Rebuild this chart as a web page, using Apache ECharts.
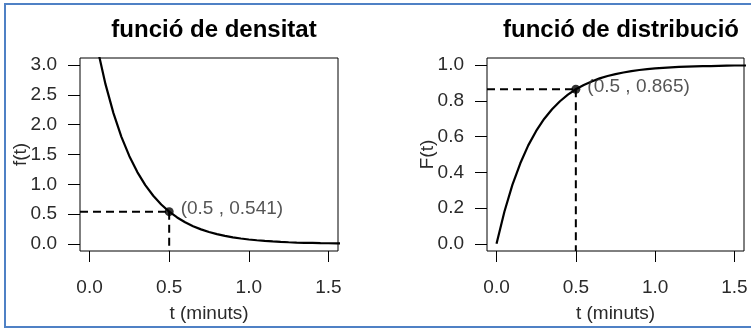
<!DOCTYPE html>
<html>
<head>
<meta charset="utf-8">
<script src="https://cdn.jsdelivr.net/npm/echarts@6/dist/echarts.min.js"></script>
<style>
html,body{margin:0;padding:0;background:#fff;}
#c{width:751px;height:329px;}
</style>
</head>
<body>
<div id="c"></div>
<script>
// ---- data ----
const tValues = [0,0.05,0.1,0.15,0.2,0.25,0.3,0.35,0.4,0.45,0.5,0.55,0.6,0.65,0.7,0.75,0.8,0.85,0.9,0.95,1.0,1.05,1.1,1.15,1.2,1.25,1.3,1.35,1.4,1.45,1.5,1.55,1.6];
const densityValues = [4.0,3.275,2.681,2.195,1.797,1.472,1.205,0.986,0.808,0.661,0.541,0.443,0.363,0.297,0.243,0.199,0.163,0.133,0.109,0.090,0.073,0.060,0.049,0.040,0.033,0.027,0.022,0.018,0.015,0.012,0.010,0.008,0.007];
const distributionValues = [0,0.181,0.330,0.451,0.551,0.632,0.699,0.753,0.798,0.835,0.865,0.889,0.909,0.926,0.939,0.950,0.959,0.967,0.973,0.978,0.982,0.985,0.988,0.990,0.992,0.993,0.994,0.995,0.996,0.997,0.998,0.998,0.998];
const xTicks = [0, 0.5, 1.0, 1.5];
const yTicksDensity = [0, 0.5, 1.0, 1.5, 2.0, 2.5, 3.0];
const yTicksDistribution = [0, 0.2, 0.4, 0.6, 0.8, 1.0];
const markedT = 0.5;
const markedDensity = 0.541;
const markedDistribution = 0.865;
const titles = ['funció de densitat', 'funció de distribució'];
const xName = 't (minuts)';
const yNames = ['f(t)', 'F(t)'];

// ---- chart ----
const xMin = -0.06, xMax = 1.56;
const yRangeD = [-0.12, 3.12];
const yRangeF = [-0.04, 1.04];
const FONT = '"Liberation Sans", Arial, sans-serif';
const txtColor = '#2a2a2a';
const FS = 19;

function xAxisCfg(gi) {
  return {
    gridIndex: gi, type: 'value', min: xMin, max: xMax,
    axisLine: {show: false, onZero: false},
    splitLine: {show: false},
    axisTick: {show: true, inside: false, length: 11, customValues: xTicks, lineStyle: {color: '#000', width: 1}},
    axisLabel: {show: true, margin: 27, customValues: xTicks, color: txtColor, fontFamily: FONT, fontSize: FS,
      formatter: v => v.toFixed(1)},
    name: xName, nameLocation: 'middle', nameGap: 53, nameMoveOverlap: false,
    nameTextStyle: {color: txtColor, fontFamily: FONT, fontSize: FS}
  };
}
function yAxisCfg(gi, range, ticks, name) {
  return {
    gridIndex: gi, type: 'value', min: range[0], max: range[1],
    axisLine: {show: false, onZero: false},
    splitLine: {show: false},
    axisTick: {show: true, inside: false, length: 12, customValues: ticks, lineStyle: {color: '#000', width: 1}},
    axisLabel: {show: true, margin: 23, customValues: ticks, color: txtColor, fontFamily: FONT, fontSize: FS,
      formatter: v => v.toFixed(1)},
    name: name, nameLocation: 'middle', nameGap: 50, nameRotate: 90, nameMoveOverlap: false,
    nameTextStyle: {color: txtColor, fontFamily: FONT, fontSize: FS}
  };
}

const curveD = tValues.map((t, i) => [t, densityValues[i]]);
const curveF = tValues.map((t, i) => [t, distributionValues[i]]);
const dashStyle = {color: '#000', width: 2, type: [8, 5]};
const annLabel = (txt) => ({show: true, position: 'right', distance: 7, offset: [0, -3], formatter: txt,
  color: txtColor, fontFamily: FONT, fontSize: FS});

const option = {
  backgroundColor: '#fff',
  animation: false,
  title: [
    {text: titles[0], left: 209, top: 13, textAlign: 'center',
      textStyle: {fontFamily: FONT, fontWeight: 'bold', fontSize: 24, color: '#000'}},
    {text: titles[1], left: 616, top: 13, textAlign: 'center',
      textStyle: {fontFamily: FONT, fontWeight: 'bold', fontSize: 24, color: '#000'}}
  ],
  grid: [
    {left: 80, top: 58, width: 258, height: 193, show: true, borderColor: '#000', borderWidth: 1, backgroundColor: 'transparent'},
    {left: 487, top: 58, width: 257, height: 193, show: true, borderColor: '#000', borderWidth: 1, backgroundColor: 'transparent'}
  ],
  xAxis: [xAxisCfg(0), xAxisCfg(1)],
  yAxis: [
    yAxisCfg(0, yRangeD, yTicksDensity, yNames[0]),
    yAxisCfg(1, yRangeF, yTicksDistribution, yNames[1])
  ],
  graphic: [
    {type: 'rect', shape: {x: 5, y: 4, width: 800, height: 323}, style: {fill: 'none', stroke: '#4F81C5', lineWidth: 2}, silent: true, z: 100}
  ],
  series: [
    {type: 'line', xAxisIndex: 0, yAxisIndex: 0, data: curveD, showSymbol: false, lineStyle: {color: '#000', width: 2.2}, clip: true, z: 3},
    {type: 'line', xAxisIndex: 0, yAxisIndex: 0, data: [[xMin, markedDensity], [markedT, markedDensity]], showSymbol: false, lineStyle: dashStyle, clip: true, z: 2},
    {type: 'line', xAxisIndex: 0, yAxisIndex: 0, data: [[markedT, markedDensity], [markedT, yRangeD[0]]], showSymbol: false, lineStyle: dashStyle, clip: true, z: 2},
    {type: 'scatter', xAxisIndex: 0, yAxisIndex: 0, data: [[markedT, markedDensity]], symbolSize: 9, itemStyle: {color: '#000'}, z: 4,
      label: annLabel('(' + markedT + ' , ' + markedDensity + ')')},

    {type: 'line', xAxisIndex: 1, yAxisIndex: 1, data: curveF, showSymbol: false, lineStyle: {color: '#000', width: 2.2}, clip: true, z: 3},
    {type: 'line', xAxisIndex: 1, yAxisIndex: 1, data: [[xMin, markedDistribution], [markedT, markedDistribution]], showSymbol: false, lineStyle: dashStyle, clip: true, z: 2},
    {type: 'line', xAxisIndex: 1, yAxisIndex: 1, data: [[markedT, markedDistribution], [markedT, yRangeF[0]]], showSymbol: false, lineStyle: dashStyle, clip: true, z: 2},
    {type: 'scatter', xAxisIndex: 1, yAxisIndex: 1, data: [[markedT, markedDistribution]], symbolSize: 9, itemStyle: {color: '#000'}, z: 4,
      label: annLabel('(' + markedT + ' , ' + markedDistribution + ')')}
  ]
};

const chart = echarts.init(document.getElementById('c'), null, {renderer: 'canvas'});
chart.setOption(option);
</script>
</body>
</html>
